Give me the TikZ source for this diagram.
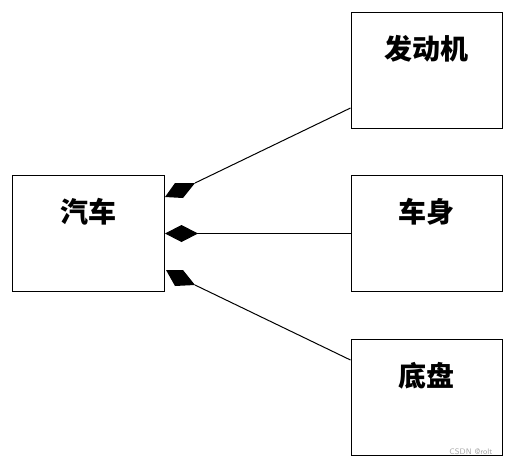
\documentclass[tikz,border=0pt]{standalone}
\usepackage{fontspec}
\newfontfamily\cjk{Noto Sans CJK SC}
\usetikzlibrary{arrows.meta, positioning}

\begin{document}
\begin{tikzpicture}[x=1pt, y=-1pt,
		part/.style={draw, line width=1pt, minimum width=151pt, minimum height=116pt, inner sep=0pt},
		title/.style={anchor=center, yshift=-37pt, font=\cjk\bfseries\fontsize{28}{28}\selectfont},
		link/.style={line width=1pt}]
	\useasboundingbox (0,0) rectangle (510,467);
	\draw (88.5,233.5) node[part, minimum width=152pt, label={[title]north:汽车}] (car) {}
	(426.5,70.5) node[part, label={[title]north:发动机}] (engine) {}
	(426.5,233.5) node[part, label={[title]north:车身}] (body) {}
	(426.5,397) node[part, label={[title]north:底盘}] (chassis) {};
	
	% composition ends
	\coordinate (e1) at (195,183);
	\coordinate (e3) at (195,285);
	\fill (165,197) -- (175,183) -- (e1) -- (183,198) -- cycle;
	\fill (166,270) -- (183,270) -- (e3) -- (175,286) -- cycle;
	
	\draw[link] (e1) -- ([yshift=21pt]engine.south west);
	\draw[link, {Diamond[length=33pt, width=17pt]}-] (car.east) -- (body.west);
	\draw[link] (e3) -- ([yshift=37pt]chassis.west);
	
	\node[text=gray!70, font=\sffamily\fontsize{8}{8}\selectfont] (mark) at (471,452) {CSDN @rolt};
\end{tikzpicture}
\end{document}
